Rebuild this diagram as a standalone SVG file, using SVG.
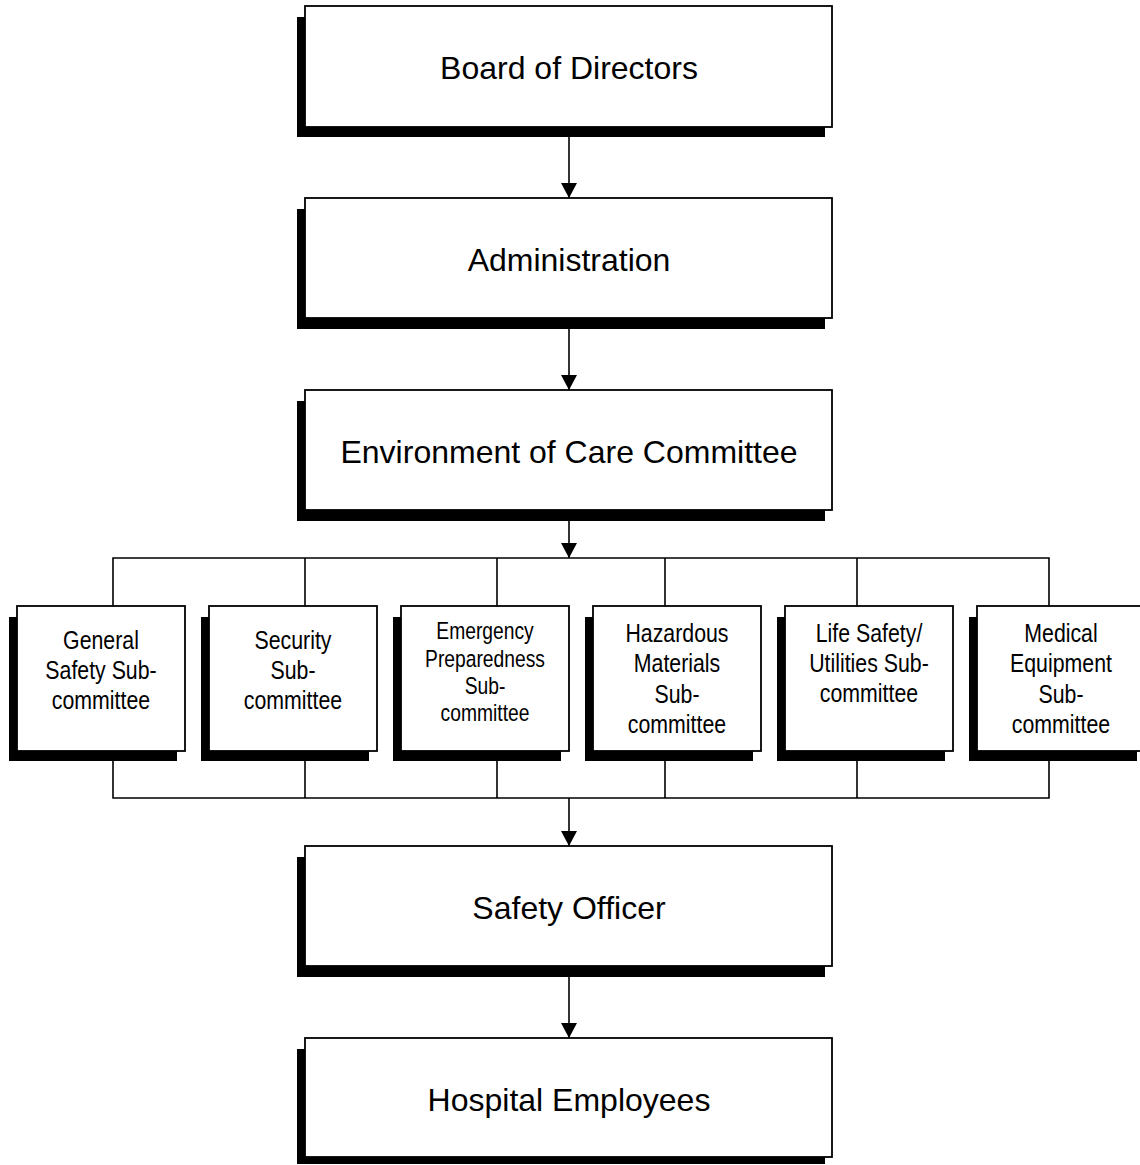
<svg xmlns="http://www.w3.org/2000/svg" width="1140" height="1165" viewBox="0 0 1140 1165">
<style>
.shadow{fill:#000;stroke:none}
.box{fill:#fff;stroke:#000;stroke-width:1.8}
.big{font-family:"Liberation Sans",Arial,sans-serif;font-size:32px;text-anchor:middle;fill:#000}
.small{font-family:"Liberation Sans",Arial,sans-serif;font-size:26px;text-anchor:middle;fill:#000}
.small2{font-family:"Liberation Sans",Arial,sans-serif;font-size:23.5px;text-anchor:middle;fill:#000}
.line{fill:none;stroke:#000;stroke-width:1.6}
</style>
<defs>
<marker id="arrow" markerUnits="userSpaceOnUse" markerWidth="16" markerHeight="16" viewBox="0 0 16 16" refX="15" refY="8" orient="auto">
<path d="M0,0 L15,8 L0,16 z" fill="#000"/>
</marker>
</defs>
<rect width="1140" height="1165" fill="#fff"/>

<g id="connectors">
<line class="line" x1="569" y1="127" x2="569" y2="198" marker-end="url(#arrow)"/>
<line class="line" x1="569" y1="318" x2="569" y2="390" marker-end="url(#arrow)"/>
<line class="line" x1="569" y1="510" x2="569" y2="558" marker-end="url(#arrow)"/>
<path class="line" d="M113,606 V558 H1049 V606 M305,558 V606 M497,558 V606 M665,558 V606 M857,558 V606"/>
<path class="line" d="M113,751 V798 H1049 V751 M305,751 V798 M497,751 V798 M665,751 V798 M857,751 V798"/>
<line class="line" x1="569" y1="798" x2="569" y2="846" marker-end="url(#arrow)"/>
<line class="line" x1="569" y1="966" x2="569" y2="1038" marker-end="url(#arrow)"/>
</g>

<g id="board">
<rect class="shadow" x="297" y="17" width="528" height="120"/>
<rect class="box" x="305" y="6" width="527" height="121"/>
<text class="big" x="569" y="79">Board of Directors</text>
</g>
<g id="administration">
<rect class="shadow" x="297" y="209" width="528" height="120"/>
<rect class="box" x="305" y="198" width="527" height="120"/>
<text class="big" x="569" y="271">Administration</text>
</g>
<g id="eoc">
<rect class="shadow" x="297" y="401" width="528" height="120"/>
<rect class="box" x="305" y="390" width="527" height="120"/>
<text class="big" x="569" y="463">Environment of Care Committee</text>
</g>

<g id="general-safety">
<rect class="shadow" x="9" y="617" width="168" height="144"/>
<rect class="box" x="17" y="606" width="168" height="145"/>
<g transform="matrix(0.82,0,0,1,101,0)">
<text class="small" x="0" y="649">General</text>
<text class="small" x="0" y="679">Safety Sub-</text>
<text class="small" x="0" y="709">committee</text>
</g>
</g>
<g id="security">
<rect class="shadow" x="201" y="617" width="168" height="144"/>
<rect class="box" x="209" y="606" width="168" height="145"/>
<g transform="matrix(0.82,0,0,1,293,0)">
<text class="small" x="0" y="649">Security</text>
<text class="small" x="0" y="679">Sub-</text>
<text class="small" x="0" y="709">committee</text>
</g>
</g>
<g id="emergency">
<rect class="shadow" x="393" y="617" width="168" height="144"/>
<rect class="box" x="401" y="606" width="168" height="145"/>
<g transform="matrix(0.82,0,0,1,485,0)">
<text class="small2" x="0" y="639">Emergency</text>
<text class="small2" x="0" y="667">Preparedness</text>
<text class="small2" x="0" y="694">Sub-</text>
<text class="small2" x="0" y="721">committee</text>
</g>
</g>
<g id="hazardous">
<rect class="shadow" x="585" y="617" width="168" height="144"/>
<rect class="box" x="593" y="606" width="168" height="145"/>
<g transform="matrix(0.82,0,0,1,677,0)">
<text class="small" x="0" y="642">Hazardous</text>
<text class="small" x="0" y="672">Materials</text>
<text class="small" x="0" y="703">Sub-</text>
<text class="small" x="0" y="733">committee</text>
</g>
</g>
<g id="life-safety">
<rect class="shadow" x="777" y="617" width="168" height="144"/>
<rect class="box" x="785" y="606" width="168" height="145"/>
<g transform="matrix(0.82,0,0,1,869,0)">
<text class="small" x="0" y="642">Life Safety/</text>
<text class="small" x="0" y="672">Utilities Sub-</text>
<text class="small" x="0" y="702">committee</text>
</g>
</g>
<g id="medical-equipment">
<rect class="shadow" x="969" y="617" width="168" height="144"/>
<rect class="box" x="977" y="606" width="168" height="145"/>
<g transform="matrix(0.82,0,0,1,1061,0)">
<text class="small" x="0" y="642">Medical</text>
<text class="small" x="0" y="672">Equipment</text>
<text class="small" x="0" y="703">Sub-</text>
<text class="small" x="0" y="733">committee</text>
</g>
</g>

<g id="safety-officer">
<rect class="shadow" x="297" y="857" width="528" height="120"/>
<rect class="box" x="305" y="846" width="527" height="120"/>
<text class="big" x="569" y="919">Safety Officer</text>
</g>
<g id="hospital-employees">
<rect class="shadow" x="297" y="1049" width="528" height="115"/>
<rect class="box" x="305" y="1038" width="527" height="119"/>
<text class="big" x="569" y="1111">Hospital Employees</text>
</g>
</svg>
